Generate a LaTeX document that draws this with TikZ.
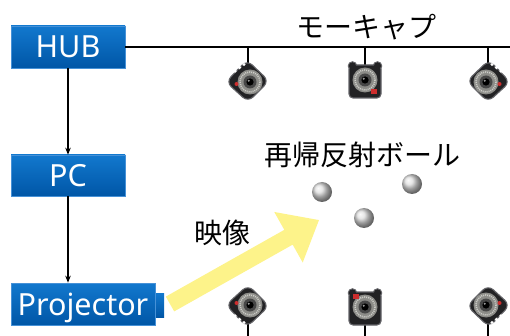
\documentclass[tikz,border=0pt]{standalone}
\usepackage{fontspec}
\setmainfont{Noto Sans}
\newfontfamily\jpfont{Noto Sans CJK JP}
\usetikzlibrary{arrows.meta,shadings}

\definecolor{boxtop}{RGB}{18,120,206}
\definecolor{boxbot}{RGB}{0,86,166}
\definecolor{boxedge}{RGB}{70,145,215}
\definecolor{beam}{RGB}{253,243,138}
\definecolor{camdark}{RGB}{34,34,36}
\definecolor{camrim}{RGB}{100,100,104}
\definecolor{ringgray}{RGB}{140,140,136}
\definecolor{ringdots}{RGB}{205,205,200}
\definecolor{ledred}{RGB}{205,45,45}
\definecolor{ballgray}{RGB}{222,222,222}

\tikzset{
  wire/.style={line width=1.3pt, black},
  flow/.style={wire, -{Stealth[length=7pt,width=5.5pt]}},
  bluebox/.style={top color=boxtop, bottom color=boxbot, draw=boxedge,
    line width=0.6pt, text=white, inner sep=0pt,
    font=\fontsize{30.5}{30.5}\selectfont, text height=22pt, text depth=0pt},
  boxext/.style={top color=boxtop, bottom color=boxbot},
  jplabel/.style={font=\jpfont\fontsize{28}{28}\selectfont, inner sep=0pt},
  retro/.style={ball color=ballgray},
  pics/lens/.style={code={
    \fill[ringgray] (0,0) circle (12.5);
    \draw[ringdots, line width=1.6pt, dash pattern=on 1pt off 1pt] (0,0) circle (10);
    \fill[black!72] (0,0) circle (6.5);
    \fill[black] (0,0) circle (3.6);
    \fill[gray!80] (-1.3,-1.3) circle (1.1);
  }},
  % front-facing camera; #1 places the red indicator
  pics/camfront/.style={code={
    \filldraw[fill=camdark, draw=camrim, line width=1.1pt] (-12.5,-14) circle (4.2) (12.5,-14) circle (4.2);
    \filldraw[fill=camdark, draw=camrim, line width=1.1pt, rounded corners=4pt] (-16,-15) rectangle (16,18);
    \fill[camdark] (-12.5,-14) circle (3.5) (12.5,-14) circle (3.5);
    \pic {lens};
    \fill[ledred] #1 rectangle ++(6,5);
  }},
  % camera seen at an angle
  pics/camside/.style={code={
    \filldraw[fill=camdark, draw=camrim, line width=1.1pt, rounded corners=7pt]
      (-22,1) -- (-1,-21) -- (21,0) -- (0,21) -- cycle;
    \pic at (2,1) {lens};
    \fill[white] (-13,-10) circle (1.8) (-8.5,-13.5) circle (1.8) (-4,-16.5) circle (1.6);
    \fill[ledred] (-11.5,3) circle (2);
  }},
}

\begin{document}
\begin{tikzpicture}[x=1pt, y=-1pt]
  \useasboundingbox (0,0) rectangle (510,336);

  % control chain
  \node[bluebox, minimum width=114pt, minimum height=42pt] (hub) at (68,47) {HUB};
  \node[bluebox, minimum width=114pt, minimum height=41pt] (pc) at (68,175.5) {PC};
  \shade[boxext] (155,293) rectangle (164,317);
  \node[bluebox, minimum width=144pt, minimum height=42pt] (proj) at (83,304) {Projector};

  \draw[flow] (hub.south) -- (pc.north);
  \draw[flow] (pc.south) -- (proj.north -| pc.south);

  % motion-capture rail
  \coordinate (railend) at (510,47);
  \draw[wire] (hub.east) -- (railend);
  \node[jplabel] (mocap) at (366,27) {モーキャプ};

  % camera positions
  \coordinate (camTL) at (248,81);
  \coordinate (camTM) at (365,80);
  \coordinate (camTR) at (488,81);
  \coordinate (camBL) at (248,306);
  \coordinate (camBM) at (365,307);
  \coordinate (camBR) at (488,306);
  \coordinate (endBL) at (248,336);
  \coordinate (endBM) at (365,336);
  \coordinate (endBR) at (488,336);

  \draw[wire] (camTL |- hub.east) -- (camTL);
  \draw[wire] (camTM |- hub.east) -- (camTM);
  \draw[wire] (camTR |- hub.east) -- (camTR);
  \draw[wire] (camBL) -- (endBL);
  \draw[wire] (camBM) -- (endBM);
  \draw[wire] (camBR) -- (endBR);

  \pic at (camTL) {camside};
  \pic at (camTM) {camfront={(6,9)}};
  \pic[xscale=-1] at (camTR) {camside};
  \pic[yscale=-1] at (camBL) {camside};
  \pic at (camBM) {camfront={(-12,-13)}};
  \pic[scale=-1] at (camBR) {camside};

  % retro-reflective markers
  \node[jplabel] (markers) at (362,155) {再帰反射ボール};
  \coordinate (m1) at (322,192);
  \coordinate (m2) at (412,184);
  \coordinate (m3) at (364,218);
  \shade[retro] (m1) circle (10);
  \shade[retro] (m2) circle (10);
  \shade[retro] (m3) circle (10);

  % projected image
  \coordinate (beamtail) at (170,304);
  \begin{scope}[shift={(beamtail)}, rotate=29.4]
    \fill[beam] (0,-8.5) -- (136,-8.5) -- (136,-29) -- (171,0)
      -- (136,29) -- (136,8.5) -- (0,8.5) -- cycle;
  \end{scope}
  \node[jplabel] (image) at (222,233) {映像};
\end{tikzpicture}
\end{document}
